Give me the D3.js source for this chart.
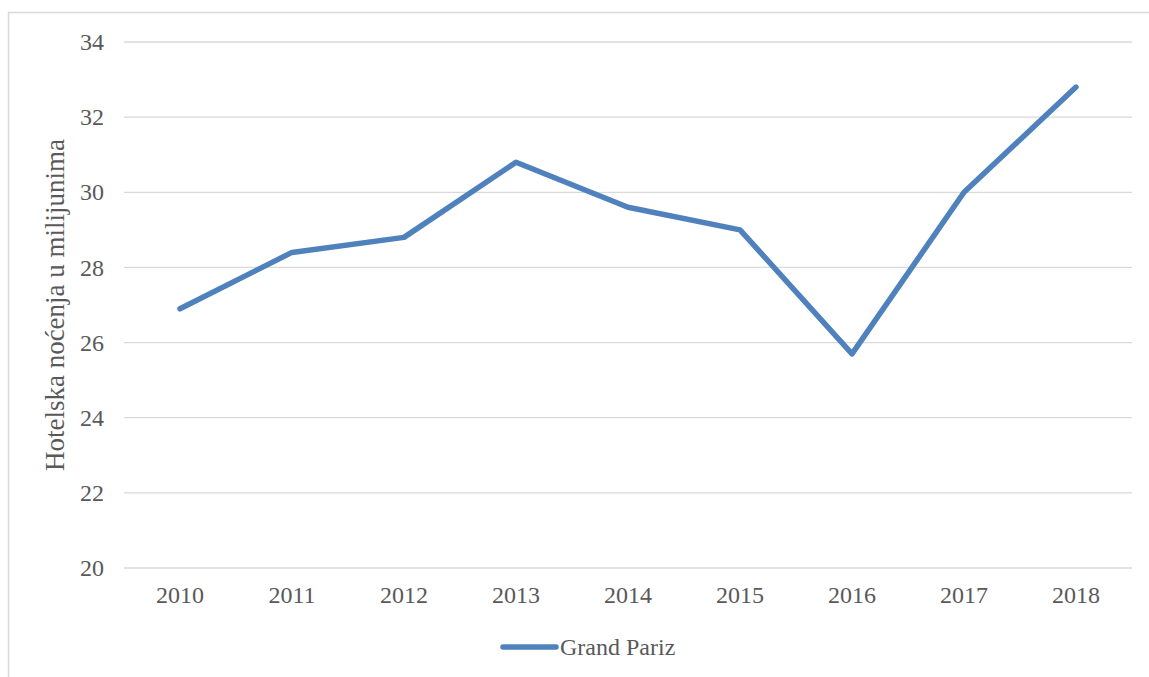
<!DOCTYPE html>
<html>
<head>
<meta charset="utf-8">
<script src="https://cdn.jsdelivr.net/npm/d3@7"></script>
<style>
  body { margin: 0; background: #fff; }
  svg text { font-family: "Liberation Serif", "Times New Roman", serif; fill: #595959; }
</style>
</head>
<body>
<svg id="chart" width="1149" height="677"></svg>
<script>
const years = ["2010", "2011", "2012", "2013", "2014", "2015", "2016", "2017", "2018"];
const nights = [26.9, 28.4, 28.8, 30.8, 29.6, 29.0, 25.7, 30.0, 32.8];
const yTicks = [20, 22, 24, 26, 28, 30, 32, 34];
const seriesName = "Grand Pariz";
const yTitle = "Hotelska noćenja u milijunima";

const svg = d3.select("#chart");
const margin = { top: 42, right: 17, bottom: 109, left: 124 };
const width = 1149 - margin.left - margin.right;
const height = 677 - margin.top - margin.bottom;

// outer frame
svg.append("rect")
    .attr("x", 8.5).attr("y", 12.5)
    .attr("width", 1160).attr("height", 700)
    .style("fill", "none")
    .style("stroke", "#d9d9d9")
    .style("stroke-width", 1.5);

const g = svg.append("g")
    .attr("transform", `translate(${margin.left},${margin.top})`);

const x = d3.scaleBand().domain(years).range([0, width]);
const y = d3.scaleLinear().domain([20, 34]).range([height, 0]);

// gridlines
g.append("g")
    .selectAll("line")
    .data(yTicks)
    .join("line")
    .attr("x1", 0).attr("x2", width)
    .attr("y1", d => y(d)).attr("y2", d => y(d))
    .style("stroke", "#d9d9d9")
    .style("stroke-width", 1.3);

const yAxis = g.append("g")
    .call(d3.axisLeft(y).tickValues(yTicks).tickSize(0).tickPadding(20));
yAxis.select(".domain").remove();
yAxis.selectAll("text").style("font-size", "24px");

const xAxis = g.append("g")
    .attr("transform", `translate(0,${height})`)
    .call(d3.axisBottom(x).tickSize(0).tickPadding(18));
xAxis.select(".domain").remove();
xAxis.selectAll("text").style("font-size", "24px");

const line = d3.line()
    .x((d, i) => x(years[i]) + x.bandwidth() / 2)
    .y(d => y(d));

g.append("path")
    .datum(nights)
    .attr("d", line)
    .style("fill", "none")
    .style("stroke", "#4f81bd")
    .style("stroke-width", 5.5)
    .style("stroke-linejoin", "round")
    .style("stroke-linecap", "round");

// y title
svg.append("text")
    .attr("transform", `translate(64,${margin.top + height / 2}) rotate(-90)`)
    .style("text-anchor", "middle")
    .style("font-size", "27px")
    .text(yTitle);

// legend
const legend = svg.append("g").attr("transform", "translate(503,647)");
legend.append("line")
    .attr("x1", 0).attr("x2", 53)
    .style("stroke", "#4f81bd")
    .style("stroke-width", 5.5)
    .style("stroke-linecap", "round");
legend.append("text")
    .attr("x", 57).attr("dy", "0.35em")
    .style("font-size", "24px")
    .text(seriesName);
</script>
</body>
</html>
